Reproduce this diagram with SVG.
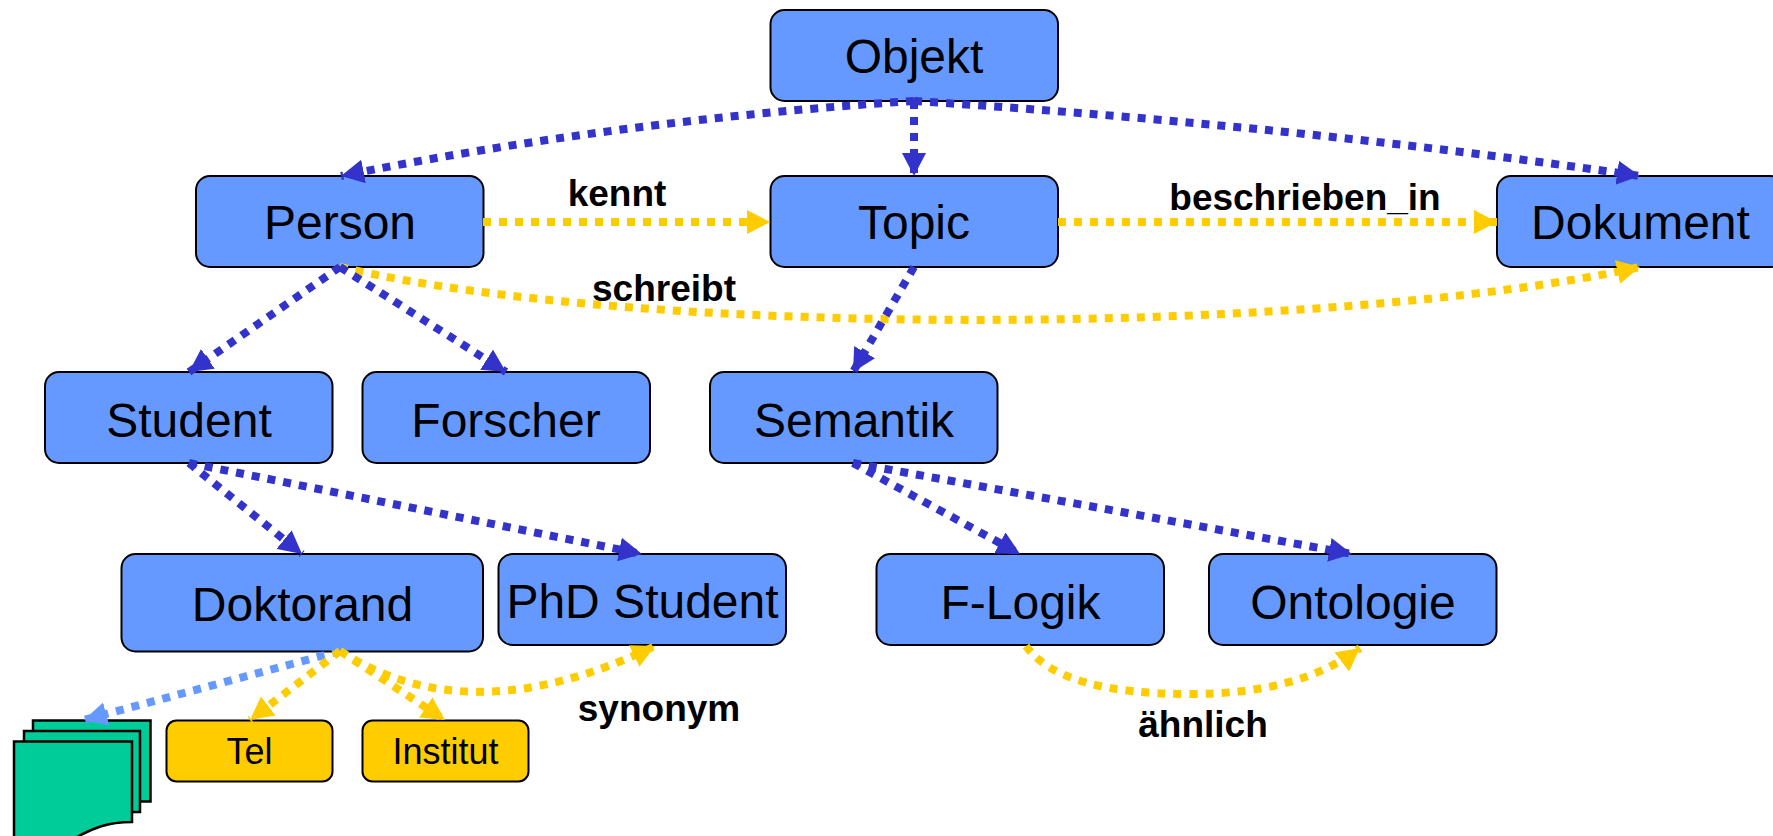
<svg xmlns="http://www.w3.org/2000/svg" width="1773" height="836" viewBox="0 0 1773 836">
<style>
text{font-family:"Liberation Sans",Arial,sans-serif;text-anchor:middle;fill:#000}
.n{fill:#6699FF;stroke:#000;stroke-width:2}
.a{fill:#FFCC00;stroke:#000;stroke-width:2}
.d{fill:#00CC99;stroke:#000;stroke-width:2.5}
.t{font-size:48px}
.s{font-size:36px}
.l{font-size:37px;font-weight:bold}
.c{fill:none;stroke-width:8;stroke-dasharray:8 8}
.b{stroke:#3333CC;marker-end:url(#mb)}
.y{stroke:#FFCC00;marker-end:url(#my)}
.g{stroke:#6699FF;marker-end:url(#mg)}
</style>
<defs>
<marker id="mb" markerUnits="userSpaceOnUse" markerWidth="24" markerHeight="24" refX="23" refY="12" orient="auto"><path d="M0 0L23 12L0 24Z" fill="#3333CC"/></marker>
<marker id="my" markerUnits="userSpaceOnUse" markerWidth="24" markerHeight="24" refX="23" refY="12" orient="auto"><path d="M0 0L23 12L0 24Z" fill="#FFCC00"/></marker>
<marker id="mg" markerUnits="userSpaceOnUse" markerWidth="24" markerHeight="24" refX="23" refY="12" orient="auto"><path d="M0 0L23 12L0 24Z" fill="#6699FF"/></marker>
</defs>
<g id="objekt"><rect class="n" x="770.5" y="10" width="287.5" height="91" rx="14"/><text class="t" x="914" y="73">Objekt</text></g>
<g id="person"><rect class="n" x="196" y="176" width="287.5" height="91" rx="14"/><text class="t" x="340" y="239">Person</text></g>
<g id="topic"><rect class="n" x="770.5" y="176" width="287.5" height="91" rx="14"/><text class="t" x="914" y="239">Topic</text></g>
<g id="dokument"><rect class="n" x="1497" y="176" width="287.5" height="91" rx="14"/><text class="t" x="1640.5" y="239">Dokument</text></g>
<g id="student"><rect class="n" x="45" y="372" width="287.5" height="91" rx="14"/><text class="t" x="189" y="437">Student</text></g>
<g id="forscher"><rect class="n" x="362.5" y="372" width="287.5" height="91" rx="14"/><text class="t" x="506" y="437">Forscher</text></g>
<g id="semantik"><rect class="n" x="710" y="372" width="287.5" height="91" rx="14"/><text class="t" x="854" y="437">Semantik</text></g>
<g id="doktorand"><rect class="n" x="121.5" y="554" width="361.5" height="97.5" rx="14"/><text class="t" x="302.5" y="621">Doktorand</text></g>
<g id="phd"><rect class="n" x="498.5" y="554" width="287.5" height="91" rx="14"/><text class="t" x="642.5" y="618">PhD Student</text></g>
<g id="flogik"><rect class="n" x="876.5" y="554" width="287.5" height="91" rx="14"/><text class="t" x="1020.5" y="619">F-Logik</text></g>
<g id="ontologie"><rect class="n" x="1209" y="554" width="287.5" height="91" rx="14"/><text class="t" x="1353" y="619">Ontologie</text></g>
<g id="tel"><rect class="a" x="166.5" y="720.5" width="166" height="61" rx="10"/><text class="s" x="249.5" y="764">Tel</text></g>
<g id="institut"><rect class="a" x="362.5" y="720.5" width="166" height="61" rx="10"/><text class="s" x="445.5" y="764">Institut</text></g>
<g id="dokumente">
<rect class="d" x="33" y="720.5" width="117.5" height="81"/>
<rect class="d" x="24" y="731" width="116" height="81"/>
<path class="d" d="M14 741.5H132V822C108 822 92 828 72 840H14Z"/>
</g>
<g id="connectors">
<path class="c b" d="M914 101Q620 120 341 176"/>
<path class="c b" d="M914 101V176"/>
<path class="c b" d="M914 101Q1290 125 1640 176"/>
<path class="c y" d="M483 222H770"/>
<path class="c y" d="M1058 222H1497"/>
<path class="c y" d="M340 267C650 340 1330 335 1640 267"/>
<path class="c b" d="M914 267L853 372"/>
<path class="c b" d="M340 267L189 372"/>
<path class="c b" d="M340 267L506 372"/>
<path class="c b" d="M189 463L302 554"/>
<path class="c b" d="M189 463L642 554"/>
<path class="c b" d="M853 463L1020 554"/>
<path class="c b" d="M853 463L1352 554"/>
<path class="c g" d="M340 651L84 720"/>
<path class="c y" d="M340 651L250 720"/>
<path class="c y" d="M340 651L445 720"/>
<path class="c y" d="M340 651Q470 735 655 646"/>
<path class="c y" d="M1026 646Q1060 694 1190 694Q1300 694 1360 648"/>
</g>
<g id="labels">
<text class="l" x="617" y="206">kennt</text>
<text class="l" x="1305" y="210">beschrieben_in</text>
<text class="l" x="664" y="301">schreibt</text>
<text class="l" x="659" y="721">synonym</text>
<text class="l" x="1203" y="737">ähnlich</text>
</g>
</svg>
